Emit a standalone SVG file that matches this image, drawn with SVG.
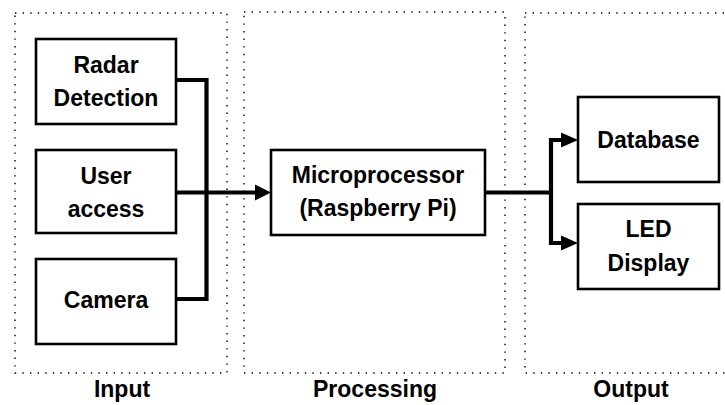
<svg xmlns="http://www.w3.org/2000/svg" width="725" height="405" viewBox="0 0 725 405">
  <style>
    .zone { fill: none; stroke: #000; stroke-width: 1.4; stroke-dasharray: 1.4 6.2; }
    .box { fill: #fff; stroke: #000; stroke-width: 2.6; }
    .lbl { font-family: "Liberation Sans", Arial, sans-serif; font-weight: bold; font-size: 23px; text-anchor: middle; fill: #000; }
    .wire { fill: none; stroke: #000; stroke-width: 4.2; stroke-linejoin: miter; }
    .head { fill: #000; }
  </style>
  <rect width="725" height="405" fill="#fff"/>

  <!-- stage zones -->
  <g id="zones">
    <rect class="zone" x="15" y="13" width="212" height="360"/>
    <rect class="zone" x="244" y="12" width="261" height="361"/>
    <rect class="zone" x="525" y="13" width="220" height="360"/>
  </g>

  <!-- connectors -->
  <g id="connectors">
    <polyline class="wire" points="176,80 206.5,80 206.5,299 176,299"/>
    <line class="wire" x1="176" y1="192.5" x2="257" y2="192.5"/>
    <polygon class="head" points="271,192.5 255,184.5 255,200.5"/>
    <line class="wire" x1="485" y1="192.5" x2="551" y2="192.5"/>
    <polyline class="wire" points="563,140 551,140 551,243 563,243"/>
    <polygon class="head" points="578,140 561,132.5 561,147.5"/>
    <polygon class="head" points="578,243 561,235.5 561,250.5"/>
  </g>

  <!-- input nodes -->
  <g id="radar">
    <rect class="box" x="36" y="39" width="140" height="85"/>
    <text class="lbl" x="106" y="73">Radar</text>
    <text class="lbl" x="106" y="106">Detection</text>
  </g>
  <g id="user-access">
    <rect class="box" x="36" y="150" width="140" height="83"/>
    <text class="lbl" x="106" y="184">User</text>
    <text class="lbl" x="106" y="217">access</text>
  </g>
  <g id="camera">
    <rect class="box" x="36" y="259" width="140" height="85"/>
    <text class="lbl" x="106" y="308">Camera</text>
  </g>

  <!-- processing node -->
  <g id="microprocessor">
    <rect class="box" x="271" y="150" width="214" height="85"/>
    <text class="lbl" x="378" y="183">Microprocessor</text>
    <text class="lbl" x="378" y="216">(Raspberry Pi)</text>
  </g>

  <!-- output nodes -->
  <g id="database">
    <rect class="box" x="578" y="97" width="141" height="85"/>
    <text class="lbl" x="648.5" y="148">Database</text>
  </g>
  <g id="led-display">
    <rect class="box" x="578" y="204" width="141" height="85"/>
    <text class="lbl" x="648.5" y="237">LED</text>
    <text class="lbl" x="648.5" y="271">Display</text>
  </g>

  <!-- stage captions -->
  <g id="captions">
    <text class="lbl" x="122" y="397">Input</text>
    <text class="lbl" x="375" y="397">Processing</text>
    <text class="lbl" x="631" y="397">Output</text>
  </g>
</svg>
